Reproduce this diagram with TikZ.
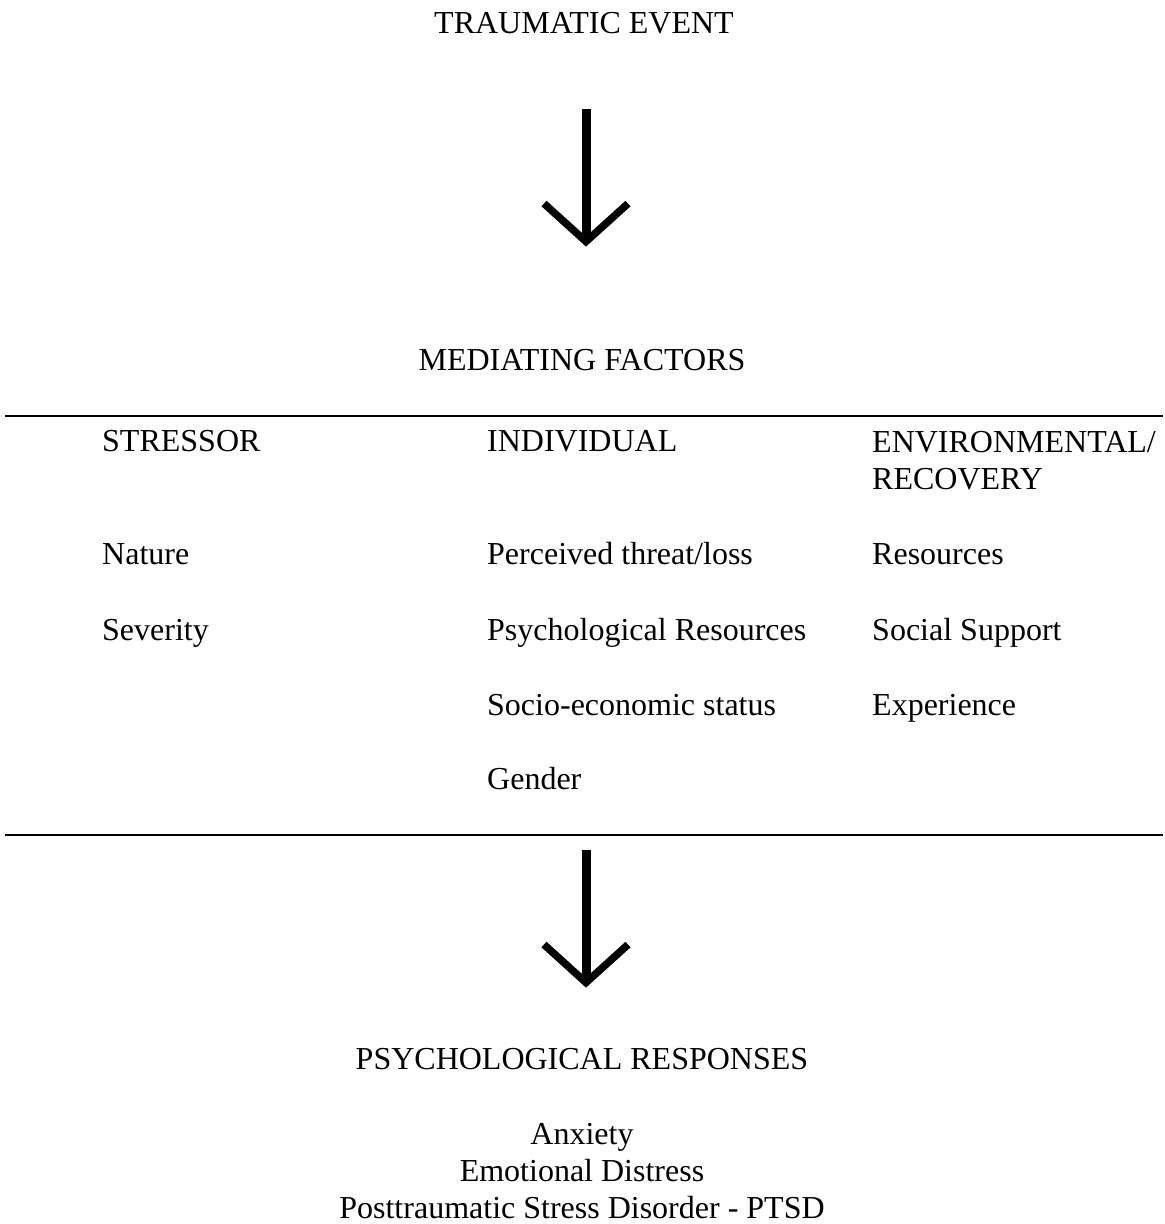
\documentclass[tikz,border=0pt]{standalone}
\usepackage{fontspec}
\setmainfont{Liberation Serif}
\usetikzlibrary{arrows.meta}

\begin{document}
\begin{tikzpicture}[x=1pt,y=-1pt,
    txt/.style={inner sep=0pt,font=\fontsize{32}{37}\selectfont},
    bigarrow/.style={line width=9pt,-{Straight Barb[length=38pt,width=84pt,line width=7.5pt]}},
    rule/.style={line width=2.8pt}]
        \useasboundingbox(0,0)rectangle(1165,1224);
        \coordinate(axis)at(586,0);
        \node[txt,anchor=base](event)at(584,33){TRAUMATIC EVENT};
        \node[txt,anchor=base](mediating)at(582,370){MEDIATING FACTORS};
        \draw[bigarrow,shorten <=75pt,shorten >=102pt](event.south-|axis)--(mediating.north-|axis);
        \coordinate(topL)at(5,416);\coordinate(topR)at(1163,416);
        \coordinate(lowL)at(5,835);\coordinate(lowR)at(1163,835);
        \draw[rule](topL)--(topR);
        \draw[rule](lowL)--(lowR);
        % columns
        \node[txt,anchor=base west](stressor)at(102,451){STRESSOR};
        \node[txt,anchor=base west]at(102,564){Nature};
        \node[txt,anchor=base west]at(102,640){Severity};
        \node[txt,anchor=base west](individual)at(487,451){INDIVIDUAL};
        \node[txt,anchor=base west]at(487,564){Perceived threat/loss};
        \node[txt,anchor=base west]at(487,640){Psychological Resources};
        \node[txt,anchor=base west]at(487,715){Socio-economic status};
        \node[txt,anchor=base west]at(487,789){Gender};
        \node[txt,anchor=base west,align=left](environment)at(872,489){ENVIRONMENTAL/\\RECOVERY};
        \node[txt,anchor=base west]at(872,564){Resources};
        \node[txt,anchor=base west]at(872,640){Social Support};
        \node[txt,anchor=base west]at(872,715){Experience};
        % responses
        \node[txt,anchor=base](responses)at(582,1069){PSYCHOLOGICAL RESPONSES};
        \draw[bigarrow,shorten <=15pt,shorten >=60pt](lowL-|axis)--(responses.north-|axis);
        \node[txt,anchor=base,align=center](symptoms)at(582,1218){Anxiety\\Emotional Distress\\Posttraumatic Stress Disorder - PTSD};
    \end{tikzpicture}
\end{document}
